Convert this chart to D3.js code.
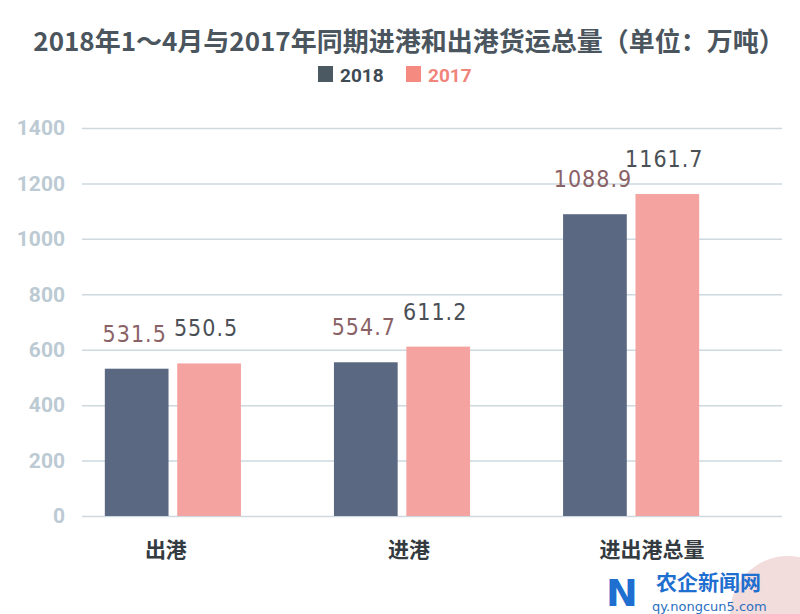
<!DOCTYPE html>
<html><head><meta charset="utf-8">
<script src="https://cdn.jsdelivr.net/npm/d3@7"></script>
<style>body{margin:0;background:#fff;} svg{display:block;}</style>
</head><body>
<script>
const categories = ["出港", "进港", "进出港总量"];
const seriesNames = ["2018", "2017"];
const values2018 = [531.5, 554.7, 1088.9];
const values2017 = [550.5, 611.2, 1161.7];
const yTicks = [0, 200, 400, 600, 800, 1000, 1200, 1400];
const titleText = "2018年1～4月与2017年同期进港和出港货运总量（单位：万吨）";

const W = 800, H = 614;
const svg = d3.select("body").append("svg").attr("width", W).attr("height", H);

const barColors = {"2018": "#5b6881", "2017": "#f5a3a0"};
const legendColors = {"2018": "#4b5963", "2017": "#f48a80"};
const legendText = {"2018": "#3e4a54", "2017": "#f0857b"};
const labelColors = {"2018": "#8a6266", "2017": "#4a4f55"};

const y = d3.scaleLinear().domain([0, 1400]).range([516, 128]);
const x0 = d3.scaleBand().domain(categories).range([59, 745]).paddingInner(0.406).paddingOuter(0.2);
const x1 = d3.scaleBand().domain(seriesNames).range([0, x0.bandwidth()]).paddingInner(0.12);

// watermark circle
svg.append("circle").attr("cx", 788).attr("cy", 614).attr("r", 58).attr("fill", "#f3dcdc");

// gridlines
const yAxis = d3.axisLeft(y).tickValues(yTicks).tickSize(-700).tickPadding(16).tickFormat(d3.format("d"));
const ga = svg.append("g").attr("transform", "translate(82,0)").call(yAxis);
ga.select(".domain").remove();
ga.selectAll(".tick line").attr("stroke", "#cdd8df").attr("stroke-width", 1.5);
ga.selectAll(".tick text").attr("fill", "#bccad3").attr("font-family", "Roboto, 'DejaVu Sans', sans-serif")
  .attr("font-weight", "bold").attr("font-size", 21).attr("x", -17);

// title
svg.append("text").attr("x", 409).attr("y", 51).attr("text-anchor", "middle")
  .attr("font-family", "'Noto Sans CJK SC', sans-serif").attr("font-weight", "bold")
  .attr("font-size", 26).attr("fill", "#4a555e").text(titleText);

// legend
const legendItems = [{k: "2018", x: 318}, {k: "2017", x: 406}];
legendItems.forEach(it => {
  svg.append("rect").attr("x", it.x).attr("y", 66).attr("width", 15).attr("height", 16).attr("fill", legendColors[it.k]);
  svg.append("text").attr("x", it.x + 22).attr("y", 82).attr("font-family", "Roboto, sans-serif")
    .attr("font-weight", "bold").attr("font-size", 19).attr("fill", legendText[it.k]).text(it.k);
});

// bars
const data = categories.map((c, i) => ({cat: c, vals: [{k: "2018", v: values2018[i]}, {k: "2017", v: values2017[i]}]}));
const groups = svg.selectAll("g.grp").data(data).join("g").attr("class", "grp")
  .attr("transform", d => `translate(${x0(d.cat)},0)`);
groups.selectAll("rect").data(d => d.vals).join("rect")
  .attr("x", d => x1(d.k)).attr("width", x1.bandwidth())
  .attr("y", d => y(d.v)).attr("height", d => y(0) - y(d.v))
  .attr("fill", d => barColors[d.k]);
groups.selectAll("text.lbl").data(d => d.vals).join("text").attr("class", "lbl")
  .attr("x", d => x1(d.k) + x1.bandwidth() / 2 - (d.k === "2018" ? 2 : 3))
  .attr("y", d => y(d.v) - 27)
  .attr("text-anchor", "middle")
  .attr("font-family", "'Liberation Sans Narrow', 'DejaVu Sans Condensed', sans-serif")
  .attr("font-size", 23).attr("letter-spacing", 1)
  .attr("fill", d => labelColors[d.k]).text(d => d.v.toFixed(1));

// category labels
svg.selectAll("text.cat").data(categories).join("text").attr("class", "cat")
  .attr("x", (d, i) => x0(d) + x0.bandwidth() / 2 + (i - 0.5) * 14).attr("y", 557).attr("text-anchor", "middle")
  .attr("font-family", "'Noto Sans CJK SC', sans-serif").attr("font-weight", "bold")
  .attr("font-size", 21).attr("fill", "#333a40").text(d => d);

// watermark text
svg.append("text").attr("x", 656).attr("y", 590).attr("font-family", "'Noto Sans CJK SC', sans-serif")
  .attr("font-weight", "bold").attr("font-size", 21).attr("fill", "#1f6fd0").text("农企新闻网");
svg.append("text").attr("x", 652).attr("y", 611).attr("font-family", "'DejaVu Sans', sans-serif")
  .attr("font-size", 13).attr("fill", "#2a6fc0").text("qy.nongcun5.com");
svg.append("text").attr("x", 606).attr("y", 606).attr("font-family", "'DejaVu Sans', sans-serif")
  .attr("font-weight", "bold").attr("font-size", 38).attr("fill", "#1f6fd0").text("N");
</script>
</body></html>
